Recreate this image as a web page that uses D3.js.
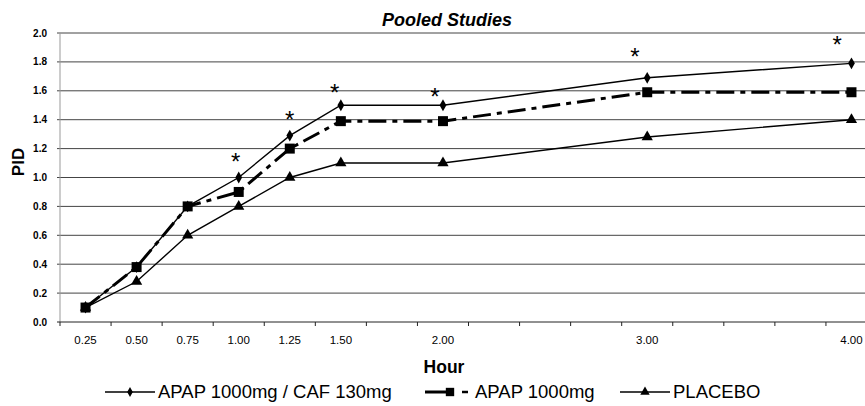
<!DOCTYPE html>
<html>
<head>
<meta charset="utf-8">
<script src="https://cdn.jsdelivr.net/npm/d3@7"></script>
<style>
  body { margin: 0; background: #fff; }
  svg { font-family: Arial, "Liberation Sans", sans-serif; }
</style>
</head>
<body>
<div id="chart"></div>
<script>
// hours and PID values
const hours = [0.25, 0.50, 0.75, 1.00, 1.25, 1.50, 2.00, 3.00, 4.00];
const apapCaf = [0.10, 0.38, 0.80, 1.00, 1.29, 1.50, 1.50, 1.69, 1.79];
const apap = [0.10, 0.38, 0.80, 0.90, 1.20, 1.39, 1.39, 1.59, 1.59];
const placebo = [0.10, 0.28, 0.60, 0.80, 1.00, 1.10, 1.10, 1.28, 1.40];

// significance asterisks (hour, PID position)
const starHours = [0.985, 1.25, 1.47, 1.96, 2.94, 3.93];
const starValues = [1.14, 1.43, 1.62, 1.59, 1.87, 1.95];

const xTickLabels = ["0.25", "0.50", "0.75", "1.00", "1.25", "1.50", "2.00", "3.00", "4.00"];
const yTicks = [0, 0.2, 0.4, 0.6, 0.8, 1.0, 1.2, 1.4, 1.6, 1.8, 2.0];
// category boundaries on the hour axis (every quarter hour)
const xBounds = d3.range(0.125, 4.126, 0.25);

const width = 865, height = 406;

const svg = d3.select("#chart")
    .append("svg")
    .attr("width", width)
    .attr("height", height);

const x = d3.scaleLinear()
    .domain([0.125, 4.125])
    .range([60, 877]);

const y = d3.scaleLinear()
    .domain([0, 2])
    .range([322, 33]);

const series = [
    {label: "APAP 1000mg / CAF 130mg", values: apapCaf, symbol: d3.symbolDiamond, size: 40, width: 1.4, dash: null},
    {label: "APAP 1000mg", values: apap, symbol: d3.symbolSquare, size: 100, width: 3, dash: "18,6,5,6"},
    {label: "PLACEBO", values: placebo, symbol: d3.symbolTriangle, size: 55, width: 1.4, dash: null}
];

// gridlines
svg.append("g")
    .selectAll("line")
    .data(yTicks.slice(1))
    .enter().append("line")
    .attr("x1", 57)
    .attr("x2", width)
    .attr("y1", d => y(d))
    .attr("y2", d => y(d))
    .attr("stroke", "#444")
    .attr("stroke-width", 1);

// y axis
svg.append("line")
    .attr("x1", 60).attr("x2", 60)
    .attr("y1", y(2)).attr("y2", y(0))
    .attr("stroke", "#999");

svg.append("g")
    .selectAll("text")
    .data(yTicks)
    .enter().append("text")
    .attr("x", 47)
    .attr("y", d => y(d) + 3.5)
    .attr("text-anchor", "end")
    .style("font-size", "10px")
    .style("font-weight", "bold")
    .text(d => d.toFixed(1));

// x axis
svg.append("line")
    .attr("x1", 57).attr("x2", width)
    .attr("y1", y(0)).attr("y2", y(0))
    .attr("stroke", "#222");

svg.append("g")
    .selectAll("line")
    .data(xBounds)
    .enter().append("line")
    .attr("x1", d => x(d)).attr("x2", d => x(d))
    .attr("y1", y(0)).attr("y2", y(0) + 4)
    .attr("stroke", "#222");

svg.append("g")
    .selectAll("text")
    .data(hours)
    .enter().append("text")
    .attr("x", d => x(d))
    .attr("y", 344)
    .attr("text-anchor", "middle")
    .style("font-size", "11.5px")
    .text((d, i) => xTickLabels[i]);

// axis titles
svg.append("text")
    .attr("x", 444)
    .attr("y", 373)
    .attr("text-anchor", "middle")
    .style("font-size", "17.5px")
    .style("font-weight", "bold")
    .text("Hour");

svg.append("text")
    .attr("transform", "translate(24,162) rotate(-90)")
    .attr("text-anchor", "middle")
    .style("font-size", "17px")
    .style("font-weight", "bold")
    .text("PID");

svg.append("text")
    .attr("x", 447)
    .attr("y", 26)
    .attr("text-anchor", "middle")
    .style("font-size", "18px")
    .style("font-weight", "bold")
    .style("font-style", "italic")
    .text("Pooled Studies");

// lines
const line = d3.line()
    .x((d, i) => x(hours[i]))
    .y(d => y(d));

series.forEach(s => {
    svg.append("path")
        .attr("fill", "none")
        .attr("stroke", "#000")
        .attr("stroke-width", s.width)
        .attr("stroke-dasharray", s.dash)
        .attr("d", line(s.values));
});

series.forEach(s => {
    svg.append("g")
        .selectAll("path")
        .data(s.values)
        .enter().append("path")
        .attr("transform", (d, i) => `translate(${x(hours[i])},${y(d)})`)
        .attr("d", d3.symbol().type(s.symbol).size(s.size))
        .attr("fill", "#000");
});

// asterisks
svg.append("g")
    .selectAll("text")
    .data(starValues)
    .enter().append("text")
    .attr("x", (d, i) => x(starHours[i]))
    .attr("y", d => y(d) + 13)
    .attr("text-anchor", "middle")
    .style("font-size", "24px")
    .text("*");

// legend
const legendX = [105, 425, 620];
const legendText = [158, 475, 673];
const legend = svg.append("g");

series.forEach((s, i) => {
    const row = legend.append("g");
    row.append("line")
        .attr("x1", legendX[i])
        .attr("x2", legendX[i] + (i === 1 ? 25 : 50))
        .attr("y1", 392).attr("y2", 392)
        .attr("stroke", "#000")
        .attr("stroke-width", s.width);
    if (i === 1) {
        row.append("line")
            .attr("x1", 462).attr("x2", 468)
            .attr("y1", 392).attr("y2", 392)
            .attr("stroke", "#000")
            .attr("stroke-width", 2.5);
    }
    row.append("path")
        .attr("transform", `translate(${legendX[i] + 25},392)`)
        .attr("d", d3.symbol().type(s.symbol).size(s.size * 0.7))
        .attr("fill", "#000");
    row.append("text")
        .attr("x", legendText[i])
        .attr("y", 398)
        .style("font-size", "18.5px")
        .text(s.label);
});
</script>
</body>
</html>
